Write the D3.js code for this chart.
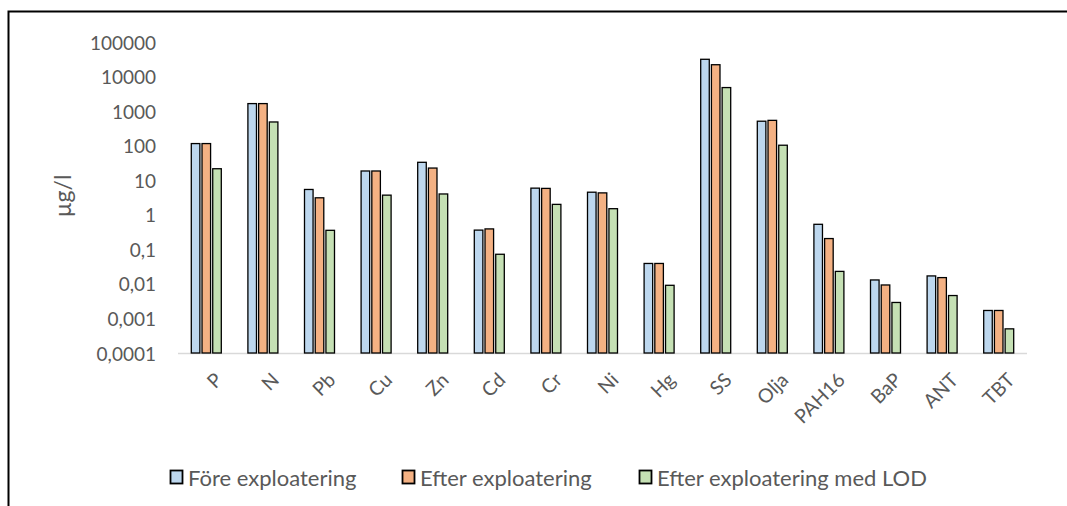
<!DOCTYPE html>
<html>
<head>
<meta charset="utf-8">
<script src="https://cdn.jsdelivr.net/npm/d3@7"></script>
<style>
  body { margin: 0; background: #fff; }
  text { font-family: Lato, "Open Sans", sans-serif; }
</style>
</head>
<body>
<svg></svg>
<script>
var width = 1067
var height = 506

var categories = ["P", "N", "Pb", "Cu", "Zn", "Cd", "Cr", "Ni", "Hg", "SS", "Olja", "PAH16", "BaP", "ANT", "TBT"]
var seriesNames = ["Före exploatering", "Efter exploatering", "Efter exploatering med LOD"]
var fore = [115, 1650, 5.4, 18.5, 33, 0.36, 5.9, 4.5, 0.039, 31600, 510, 0.53, 0.013, 0.017, 0.0017]
var efter = [115, 1650, 3.1, 18.5, 22.5, 0.39, 5.8, 4.3, 0.039, 22000, 540, 0.205, 0.0093, 0.0152, 0.0017]
var efterLod = [21.5, 485, 0.355, 3.7, 4.0, 0.072, 2.0, 1.5, 0.0091, 4800, 103, 0.023, 0.0029, 0.0046, 0.0005]
var yTicks = [0.0001, 0.001, 0.01, 0.1, 1, 10, 100, 1000, 10000, 100000]
var colors = ["#bdd7ee", "#f4b183", "#c5e0b4"]

var svg = d3.select("svg").attr("width", width).attr("height", height)

// outer frame (runs off the right and bottom edges)
svg.append("rect")
  .attr("x", 8.5).attr("y", 11.5)
  .attr("width", 1080).attr("height", 520)
  .attr("fill", "none").attr("stroke", "#000").attr("stroke-width", 2)

var x0 = d3.scaleBand().domain(categories).range([178, 1027])
var x1 = d3.scaleBand().domain(d3.range(3)).range([-15, 15]).paddingInner(0.2)
var y = d3.scaleLog().domain([0.0001, 100000]).range([353, 42])

// tick labels
svg.append("g").selectAll("text")
  .data(yTicks)
  .join("text")
  .attr("x", 156)
  .attr("y", d => y(d))
  .attr("text-anchor", "end")
  .attr("dominant-baseline", "central")
  .attr("font-size", 19)
  .attr("fill", "#595959")
  .text(d => String(d).replace(".", ","))

svg.append("text")
  .attr("transform", "translate(62,196) rotate(-90)")
  .attr("text-anchor", "middle")
  .attr("dominant-baseline", "central")
  .attr("font-size", 23)
  .attr("fill", "#595959")
  .text("µg/l")

// baseline
svg.append("line")
  .attr("x1", x0.range()[0]).attr("x2", x0.range()[1])
  .attr("y1", y(0.0001) + 0.5).attr("y2", y(0.0001) + 0.5)
  .attr("stroke", "#d9d9d9").attr("stroke-width", 1.5)

var allSeries = [fore, efter, efterLod]
var groups = svg.append("g").selectAll("g")
  .data(categories)
  .join("g")
  .attr("transform", d => "translate(" + (x0(d) + x0.bandwidth() / 2) + ",0)")

groups.selectAll("rect")
  .data((d, ci) => allSeries.map((s, si) => ({si: si, v: s[ci]})))
  .join("rect")
  .attr("x", d => x1(d.si))
  .attr("width", x1.bandwidth())
  .attr("y", d => y(d.v))
  .attr("height", d => y(0.0001) - y(d.v))
  .attr("fill", d => colors[d.si])
  .attr("stroke", "#000")
  .attr("stroke-width", 1.3)

// category labels
svg.append("g").selectAll("text")
  .data(categories)
  .join("text")
  .attr("transform", d => "translate(" + (x0(d) + x0.bandwidth() / 2 + 12) + ",376) rotate(-45)")
  .attr("text-anchor", "end")
  .attr("dominant-baseline", "central")
  .attr("font-size", 19.5)
  .attr("fill", "#595959")
  .text(d => d)

// legend
var legendX = [170, 402, 639]
var legend = svg.append("g").selectAll("g")
  .data(seriesNames)
  .join("g")
  .attr("transform", (d, i) => "translate(" + legendX[i] + ",477)")

legend.append("rect")
  .attr("x", 0.5).attr("y", -6.5)
  .attr("width", 12).attr("height", 13)
  .attr("fill", (d, i) => colors[i])
  .attr("stroke", "#000").attr("stroke-width", 1.8)

legend.append("text")
  .attr("x", 18)
  .attr("y", 0)
  .attr("dominant-baseline", "central")
  .attr("font-size", 22)
  .attr("fill", "#595959")
  .text(d => d)
</script>
</body>
</html>
